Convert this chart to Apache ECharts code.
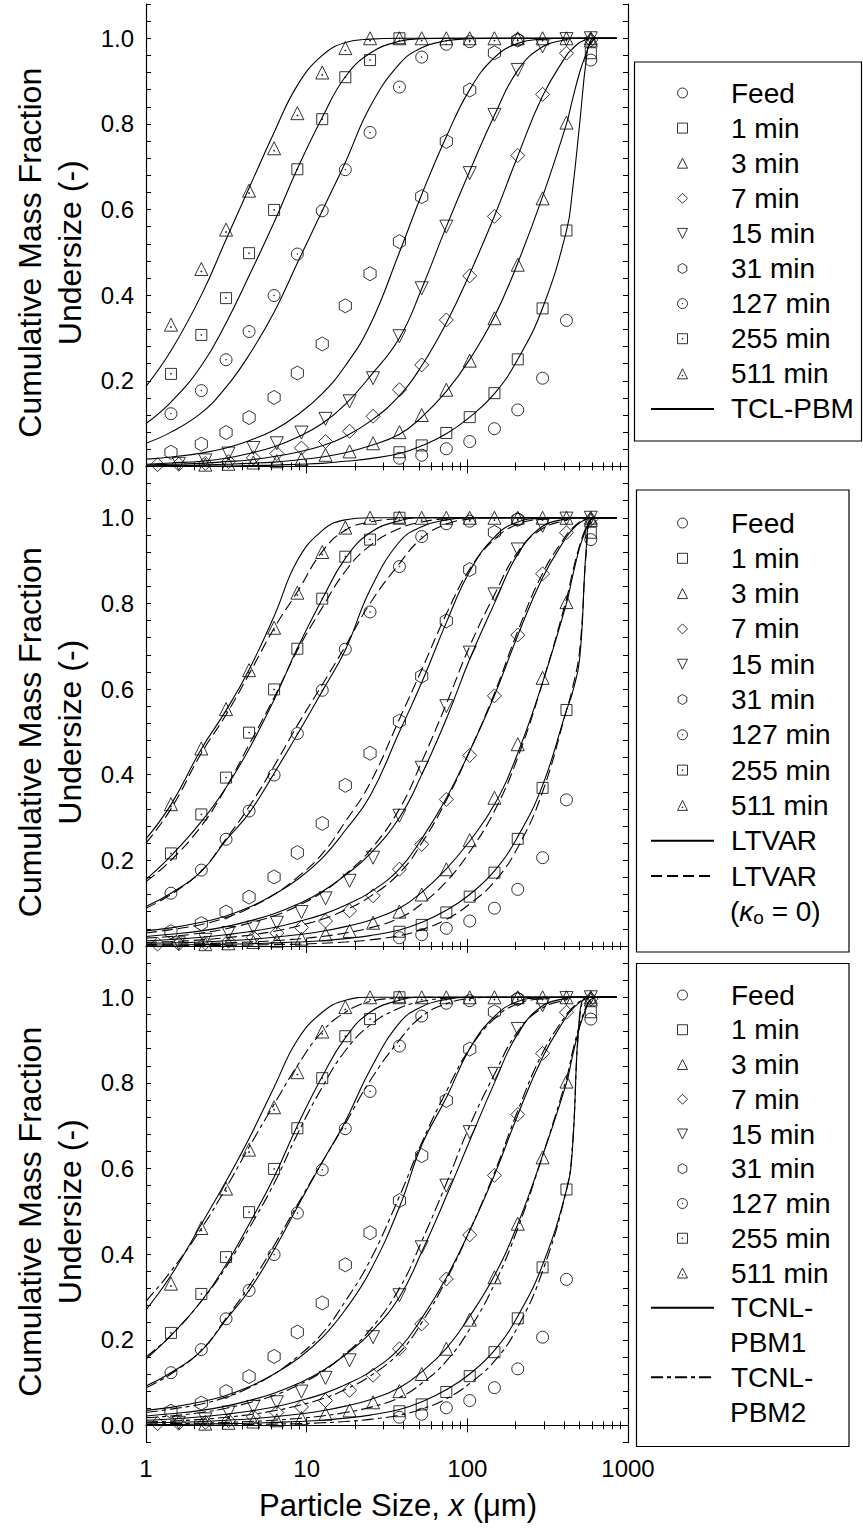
<!DOCTYPE html>
<html><head><meta charset="utf-8">
<script src="https://cdn.jsdelivr.net/npm/echarts@6/dist/echarts.min.js"></script>
<style>html,body{margin:0;padding:0;background:#fff}#c{width:863px;height:1531px}</style>
</head><body><div id="c"></div><script>
const FONT = '"Liberation Sans", Arial, sans-serif';
const seriesNames = ['Feed','1 min','3 min','7 min','15 min','31 min','127 min','255 min','511 min'];
const xTickLabels = [1,10,100,1000];
const yTickLabels = [0,0.2,0.4,0.6,0.8,1.0];

// measured data (same in all panels) [size um, fraction]
const feedData = [[37.8,0.019],[52,0.026],[74,0.041],[103.5,0.058],[147.5,0.088],[206,0.132],[294,0.206],[414,0.341],[587,0.949]];
const min1Data = [[37.8,0.033],[52,0.049],[74,0.078],[103.5,0.115],[147.5,0.171],[206,0.25],[294,0.369],[414,0.551],[587,0.965]];
const min3Data = [[2.34,0.004],[3.26,0.006],[4.66,0.009],[6.52,0.012],[9.28,0.017],[13.1,0.027],[18.5,0.035],[25.9,0.054],[37.8,0.08],[52,0.12],[74,0.179],[103.5,0.247],[147.5,0.346],[206,0.471],[294,0.626],[414,0.803],[587,1.0]];
const min7Data = [[1.18,0.004],[1.6,0.005],[2.34,0.007],[3.26,0.011],[4.66,0.02],[6.52,0.03],[9.28,0.043],[13.1,0.058],[18.5,0.082],[25.9,0.117],[37.8,0.179],[52,0.237],[74,0.342],[103.5,0.445],[147.5,0.584],[206,0.726],[294,0.869],[414,0.965],[587,0.996]];
const min15Data = [[1.6,0.006],[2.34,0.014],[3.26,0.03],[4.66,0.043],[6.52,0.054],[9.28,0.079],[13.1,0.111],[18.5,0.152],[25.9,0.206],[37.8,0.304],[52,0.416],[74,0.56],[103.5,0.685],[147.5,0.821],[206,0.926],[294,0.981],[414,0.998],[587,1.0]];
const min31Data = [[1.43,0.033],[2.21,0.052],[3.15,0.079],[4.38,0.114],[6.27,0.161],[8.75,0.218],[12.5,0.286],[17.4,0.375],[24.8,0.45],[37.8,0.525],[52,0.63],[74,0.759],[103.5,0.879],[147.5,0.966],[206,0.996]];
const min127Data = [[1.43,0.123],[2.21,0.177],[3.15,0.249],[4.38,0.315],[6.27,0.399],[8.75,0.496],[12.5,0.597],[17.4,0.693],[24.8,0.78],[37.8,0.886],[52,0.956],[74,0.986],[103.5,0.992],[206,0.996]];
const min255Data = [[1.43,0.216],[2.21,0.307],[3.15,0.393],[4.38,0.498],[6.27,0.599],[8.75,0.694],[12.5,0.811],[17.4,0.909],[24.8,0.949],[37.8,1.0]];
const min511Data = [[1.43,0.331],[2.21,0.461],[3.15,0.553],[4.38,0.644],[6.27,0.743],[8.75,0.825],[12.5,0.92],[17.4,0.977],[24.8,1.0],[37.8,1.0],[52,1.0],[74,1.0],[103.5,1.0],[147.5,1.0],[206,1.0],[294,1.0],[414,1.0],[587,0.995]];

// model curves, read on this size grid
const curveX = [1,1.43,2.21,3.15,4.38,6.27,8.75,12.5,17.4,24.8,37.8,52,74,103.5,147.5,206,294,414,450,500,550,587,650,850];
// panel 1: TCL-PBM
const tcl511 = [0.187,0.27,0.40,0.53,0.65,0.78,0.89,0.96,0.99,0.998,1,1,1,1,1,1,1,1,1,1,1,1,1,1];
const tcl255 = [0.10,0.15,0.235,0.335,0.445,0.57,0.695,0.815,0.91,0.965,0.993,0.999,1,1,1,1,1,1,1,1,1,1,1,1];
const tcl127 = [0.054,0.08,0.125,0.185,0.26,0.36,0.475,0.597,0.71,0.84,0.94,0.978,0.994,0.999,1,1,1,1,1,1,1,1,1,1];
const tcl31 = [0.017,0.022,0.031,0.043,0.06,0.085,0.12,0.17,0.235,0.33,0.5,0.635,0.77,0.88,0.955,0.988,0.998,1,1,1,1,1,1,1];
const tcl15 = [0.005,0.008,0.012,0.019,0.03,0.046,0.068,0.10,0.145,0.21,0.30,0.415,0.56,0.69,0.82,0.925,0.98,0.997,1,1,1,1,1,1];
const tcl7 = [0.003,0.005,0.007,0.011,0.015,0.023,0.033,0.048,0.07,0.105,0.165,0.235,0.335,0.45,0.585,0.725,0.865,0.96,0.975,0.99,0.997,0.999,1,1];
const tcl3 = [0.001,0.002,0.003,0.005,0.007,0.01,0.015,0.022,0.032,0.048,0.075,0.115,0.175,0.25,0.35,0.475,0.63,0.8,0.855,0.92,0.965,0.99,1,1];
const tcl1 = [0,0,0.001,0.001,0.002,0.003,0.005,0.007,0.012,0.018,0.03,0.048,0.076,0.115,0.17,0.25,0.37,0.55,0.64,0.8,0.95,0.995,1,1];
// panel 2: LTVAR (solid) and LTVAR kappa_o = 0 (dashed)
const ltv511 = [0.25,0.33,0.46,0.55,0.645,0.77,0.9,0.97,0.995,1,1,1,1,1,1,1,1,1,1,1,1,1,1,1];
const ltvk511 = [0.24,0.32,0.45,0.54,0.635,0.742,0.827,0.921,0.971,0.99,0.998,1,1,1,1,1,1,1,1,1,1,1,1,1];
const ltv255 = [0.155,0.21,0.29,0.37,0.46,0.575,0.695,0.81,0.905,0.965,0.993,1,1,1,1,1,1,1,1,1,1,1,1,1];
const ltvk255 = [0.15,0.2,0.28,0.37,0.47,0.58,0.69,0.79,0.875,0.935,0.975,0.99,0.998,1,1,1,1,1,1,1,1,1,1,1];
const ltv127 = [0.092,0.123,0.174,0.247,0.31,0.403,0.494,0.595,0.691,0.831,0.944,0.979,0.995,1,1,1,1,1,1,1,1,1,1,1];
const ltvk127 = [0.088,0.12,0.175,0.25,0.325,0.42,0.515,0.61,0.7,0.8,0.893,0.952,0.985,0.997,1,1,1,1,1,1,1,1,1,1];
const ltv31 = [0.035,0.042,0.055,0.07,0.09,0.12,0.155,0.205,0.27,0.35,0.5,0.615,0.755,0.875,0.955,0.99,0.999,1,1,1,1,1,1,1];
const ltvk31 = [0.03,0.038,0.05,0.066,0.088,0.12,0.16,0.215,0.29,0.38,0.53,0.645,0.775,0.88,0.95,0.985,0.997,1,1,1,1,1,1,1];
const ltv15 = [0.022,0.027,0.035,0.045,0.058,0.075,0.097,0.127,0.165,0.215,0.3,0.4,0.53,0.67,0.8,0.915,0.98,0.998,1,1,1,1,1,1];
const ltvk15 = [0.018,0.022,0.03,0.04,0.053,0.07,0.093,0.125,0.167,0.223,0.32,0.43,0.565,0.7,0.82,0.92,0.975,0.995,1,1,1,1,1,1];
const ltv7 = [0.012,0.015,0.02,0.026,0.033,0.043,0.056,0.073,0.095,0.125,0.18,0.25,0.345,0.455,0.585,0.725,0.86,0.955,0.972,0.988,0.997,1,1,1];
const ltvk7 = [0.008,0.01,0.014,0.019,0.025,0.034,0.046,0.062,0.084,0.115,0.17,0.24,0.34,0.455,0.59,0.735,0.87,0.96,0.975,0.99,0.997,1,1,1];
const ltv3 = [0.006,0.007,0.009,0.012,0.015,0.02,0.026,0.034,0.045,0.06,0.088,0.125,0.18,0.245,0.33,0.45,0.615,0.8,0.86,0.93,0.975,0.995,1,1];
const ltvk3 = [0.003,0.004,0.005,0.007,0.009,0.012,0.016,0.022,0.03,0.042,0.065,0.098,0.15,0.22,0.315,0.44,0.615,0.81,0.87,0.935,0.978,0.995,1,1];
const ltv1 = [0.002,0.002,0.003,0.004,0.005,0.007,0.009,0.012,0.017,0.024,0.037,0.055,0.083,0.12,0.175,0.255,0.375,0.55,0.59,0.67,0.93,0.998,1,1];
const ltvk1 = [0,0,0.001,0.001,0.002,0.003,0.004,0.006,0.009,0.014,0.024,0.038,0.062,0.098,0.15,0.23,0.36,0.55,0.6,0.69,0.92,0.995,1,1];
// panel 3: TCNL-PBM1 (solid) and TCNL-PBM2 (dash-dot)
const nl1_511 = [0.27,0.35,0.47,0.57,0.67,0.79,0.9,0.965,0.993,1,1,1,1,1,1,1,1,1,1,1,1,1,1,1];
const nl2_511 = [0.29,0.36,0.46,0.555,0.65,0.75,0.84,0.92,0.965,0.99,0.998,1,1,1,1,1,1,1,1,1,1,1,1,1];
const nl1_255 = [0.155,0.21,0.29,0.375,0.47,0.58,0.7,0.815,0.905,0.965,0.993,1,1,1,1,1,1,1,1,1,1,1,1,1];
const nl2_255 = [0.16,0.21,0.29,0.37,0.46,0.565,0.68,0.79,0.875,0.935,0.975,0.99,0.998,1,1,1,1,1,1,1,1,1,1,1];
const nl1_127 = [0.092,0.123,0.174,0.247,0.315,0.41,0.51,0.615,0.71,0.83,0.94,0.978,0.995,1,1,1,1,1,1,1,1,1,1,1];
const nl2_127 = [0.088,0.12,0.175,0.25,0.325,0.42,0.515,0.615,0.705,0.805,0.9,0.955,0.985,0.997,1,1,1,1,1,1,1,1,1,1];
const nl1_31 = [0.035,0.042,0.055,0.07,0.09,0.12,0.155,0.205,0.27,0.36,0.51,0.655,0.765,0.88,0.955,0.99,0.999,1,1,1,1,1,1,1];
const nl2_31 = [0.03,0.038,0.05,0.066,0.088,0.12,0.16,0.215,0.29,0.385,0.535,0.66,0.78,0.88,0.95,0.985,0.997,1,1,1,1,1,1,1];
const nl1_15 = [0.022,0.027,0.035,0.045,0.058,0.075,0.097,0.127,0.165,0.215,0.3,0.405,0.535,0.665,0.8,0.915,0.98,0.998,1,1,1,1,1,1];
const nl2_15 = [0.018,0.022,0.03,0.04,0.053,0.07,0.093,0.125,0.167,0.223,0.32,0.43,0.565,0.7,0.82,0.92,0.975,0.995,1,1,1,1,1,1];
const nl1_7 = [0.012,0.015,0.02,0.026,0.033,0.043,0.056,0.073,0.095,0.125,0.18,0.25,0.345,0.455,0.585,0.725,0.86,0.955,0.972,0.988,0.997,1,1,1];
const nl2_7 = [0.008,0.01,0.014,0.019,0.025,0.034,0.046,0.062,0.084,0.115,0.17,0.24,0.34,0.455,0.59,0.735,0.87,0.96,0.975,0.99,0.997,1,1,1];
const nl1_3 = [0.006,0.007,0.009,0.012,0.015,0.02,0.026,0.034,0.045,0.06,0.088,0.125,0.18,0.255,0.35,0.47,0.63,0.8,0.86,0.93,0.975,0.995,1,1];
const nl2_3 = [0.003,0.004,0.005,0.007,0.009,0.012,0.016,0.022,0.03,0.042,0.065,0.098,0.15,0.225,0.33,0.46,0.63,0.81,0.87,0.935,0.978,0.995,1,1];
const nl1_1 = [0.002,0.002,0.003,0.004,0.005,0.007,0.009,0.012,0.017,0.024,0.037,0.055,0.083,0.12,0.175,0.255,0.375,0.55,0.64,0.96,1,1,1,1];
const nl2_1 = [0,0,0.001,0.001,0.002,0.003,0.004,0.006,0.009,0.014,0.024,0.038,0.062,0.098,0.15,0.23,0.36,0.55,0.65,0.95,1,1,1,1];

const expData = [feedData,min1Data,min3Data,min7Data,min15Data,min31Data,min127Data,min255Data,min511Data];
const panelCurves = [
  [{name:'TCL-PBM', dash:null, curves:[tcl1,tcl3,tcl7,tcl15,tcl31,tcl127,tcl255,tcl511]}],
  [{name:'LTVAR', dash:null, curves:[ltv1,ltv3,ltv7,ltv15,ltv31,ltv127,ltv255,ltv511]},
   {name:'LTVAR (κo = 0)', dash:[11,5], curves:[ltvk1,ltvk3,ltvk7,ltvk15,ltvk31,ltvk127,ltvk255,ltvk511]}],
  [{name:'TCNL-PBM1', dash:null, curves:[nl1_1,nl1_3,nl1_7,nl1_15,nl1_31,nl1_127,nl1_255,nl1_511]},
   {name:'TCNL-PBM2', dash:[12,4,4,4], curves:[nl2_1,nl2_3,nl2_7,nl2_15,nl2_31,nl2_127,nl2_255,nl2_511]}]
];

const symCirc = 'path://M1,0 A1,1 0 1,1 -1,0 A1,1 0 1,1 1,0 Z';
const symRect = 'path://M-1,-1 L1,-1 L1,1 L-1,1 Z';
const symTri = 'path://M0,-1 L1,1 L-1,1 Z';
const symDia = 'path://M0,-1 L1,0 L0,1 L-1,0 Z';
const symInvTri = 'path://M-1,-1 L1,-1 L0,1 Z';
const symHex = 'path://M0,-1 L0.866,-0.5 L0.866,0.5 L0,1 L-0.866,0.5 L-0.866,-0.5 Z';
const symCircDot = 'path://M1,0 A1,1 0 1,1 -1,0 A1,1 0 1,1 1,0 Z M0.07,0 A0.07,0.07 0 1,1 -0.07,0 A0.07,0.07 0 1,1 0.07,0 Z';
const symRectDot = 'path://M-1,-1 L1,-1 L1,1 L-1,1 Z M-0.07,-0.07 L0.07,-0.07 L0.07,0.07 L-0.07,0.07 Z';
const symTriDot = 'path://M0,-1 L1,1 L-1,1 Z M-0.07,0.3 L0.07,0.3 L0.07,0.44 L-0.07,0.44 Z';
const markerSymbols = [symCirc,symRect,symTri,symDia,symInvTri,symHex,symCircDot,symRectDot,symTriDot];
const markerSizes = [12,11,13,14,13,14,12,11,13];

const grids = [], xAxes = [], yAxes = [], series = [];
const panelTops = [4, 483.5, 963];
const PH = 479.5;
for (let p = 0; p < 3; p++) {
  grids.push({left:146, width:482, top:panelTops[p], height:PH});
  const xBase = {type:'log', logBase:10, min:1, max:1000, gridIndex:p,
    axisLine:{show:true, lineStyle:{color:'#000', width:1.2}},
    axisTick:{show:true, inside:true, length:7, lineStyle:{color:'#000', width:1}},
    minorTick:{show:true, splitNumber:9, length:4, lineStyle:{color:'#000', width:1}},
    splitLine:{show:false}, minorSplitLine:{show:false}};
  xAxes.push(Object.assign({}, xBase, {position:'bottom',
    axisLabel:{show:p===2, color:'#000', fontSize:24, fontFamily:FONT, margin:14, formatter: v => String(Math.round(v))},
    name: p===2 ? 'Particle Size, {i|x} (μm)' : '', nameLocation:'middle', nameGap:47,
    nameTextStyle:{color:'#000', fontSize:31, fontFamily:FONT, padding:[0,0,0,22], rich:{i:{fontStyle:'italic', fontSize:31, fontFamily:FONT}}}}));
  xAxes.push(Object.assign({}, xBase, {position:'top', axisLabel:{show:false}}));
  const yBase = {type:'value', min:-0.04, max:1.08, interval:0.04, gridIndex:p,
    axisLine:{show:true, lineStyle:{color:'#000', width:1.2}},
    axisTick:{show:true, inside:true, length:5, lineStyle:{color:'#000', width:1}},
    splitLine:{show:false}};
  yAxes.push(Object.assign({}, yBase, {position:'left',
    axisLabel:{color:'#000', fontSize:24, fontFamily:FONT, margin:12,
      formatter:v => { const r = Math.round(v*100)/100; return yTickLabels.some(t => Math.abs(t - r) < 1e-6) ? r.toFixed(1) : ''; }},
    name:'Cumulative Mass Fraction\nUndersize (-)', nameLocation:'middle', nameRotate:90, nameGap:55,
    nameTextStyle:{color:'#000', fontSize:32, lineHeight:40, fontFamily:FONT, padding:[0,18,0,0]}}));
  yAxes.push(Object.assign({}, yBase, {position:'right', axisLabel:{show:false}}));

  // model curves
  panelCurves[p].forEach(set => {
    set.curves.forEach(ys => {
      series.push({type:'line', name:set.name, xAxisIndex:2*p, yAxisIndex:2*p,
        data: curveX.map((x,i) => [x, ys[i]]), symbol:'none', showSymbol:false, smooth:0.45,
        lineStyle:{color:'#000', width:1.1, type: set.dash ? set.dash : 'solid'}, silent:true, z:2, animation:false});
    });
  });
  // measured points
  seriesNames.forEach((nm, k) => {
    series.push({type:'scatter', name:nm, xAxisIndex:2*p, yAxisIndex:2*p, data: expData[k],
      symbol: markerSymbols[k], symbolSize: markerSizes[k], symbolKeepAspect:true,
      itemStyle:{color:'rgba(255,255,255,0)', borderColor:'#000', borderWidth:1}, silent:true, z:4, animation:false});
  });
}

const legendText = {'LTVAR (κo = 0)':'LTVAR', 'TCNL-PBM1':'TCNL-', 'TCNL-PBM2':'TCNL-'};
const ROW1 = 35.1, ROW2 = 35.3, ROW3 = 34.75;
const FEED1 = 93, FEED2 = 523, FEED3 = 995;
const lineItem = n => ({name:n, itemStyle:{color:'rgba(0,0,0,0)', borderWidth:0, borderColor:'rgba(0,0,0,0)'}});
const markerItems = seriesNames.map((n,k) => ({name:n, icon:markerSymbols[k]}));
function mkLegend(top, row, data) {
  return {orient:'vertical', left:650, top:top - row/2, itemWidth:63, itemHeight:10, itemGap:0, padding:0,
    selectedMode:false, data:data, formatter: n => legendText[n] || n, symbolKeepAspect:true,
    itemStyle:{borderWidth:1, borderColor:'#000', color:'rgba(255,255,255,0)'},
    textStyle:{color:'#000', fontSize:28, lineHeight:row, fontFamily:FONT, padding:[0,0,0,12]}};
}
const legends = [
  mkLegend(FEED1, ROW1, markerItems.concat([lineItem('TCL-PBM')])),
  mkLegend(FEED2, ROW2, markerItems.concat([lineItem('LTVAR'), lineItem('LTVAR (κo = 0)')])),
  mkLegend(FEED3, ROW3, markerItems.concat([lineItem('TCNL-PBM1')])),
  mkLegend(FEED3 + 11*ROW3, ROW3, [lineItem('TCNL-PBM2')])
];

const txt = (x, y, t, rich) => ({type:'text', x:x, y:y, style:{text:t, fill:'#000', fontSize:28, fontFamily:FONT, verticalAlign:'middle', align:'left', rich:rich}});
const graphics = [
  {type:'rect', shape:{x:634.5, y:62, width:227, height:379}, style:{fill:'none', stroke:'#000', lineWidth:1.2}},
  {type:'rect', shape:{x:636.5, y:490, width:212.5, height:462}, style:{fill:'none', stroke:'#000', lineWidth:1.2}},
  {type:'rect', shape:{x:636.5, y:963.5, width:212.5, height:483}, style:{fill:'none', stroke:'#000', lineWidth:1.2}},
  txt(730, FEED2 + 11*ROW2, '({k|κ}{s|o} = 0)', {k:{fontStyle:'italic', fontSize:28, fontFamily:FONT}, s:{fontSize:19, fontFamily:FONT, padding:[12,0,0,0]}}),
  txt(730, FEED3 + 10*ROW3, 'PBM1'),
  txt(730, FEED3 + 12*ROW3, 'PBM2')
];

const chart = echarts.init(document.getElementById('c'), null, {renderer:'svg'});
chart.setOption({animation:false, backgroundColor:'#fff', grid:grids, xAxis:xAxes, yAxis:yAxes, series:series, legend:legends, graphic:graphics});
</script></body></html>
